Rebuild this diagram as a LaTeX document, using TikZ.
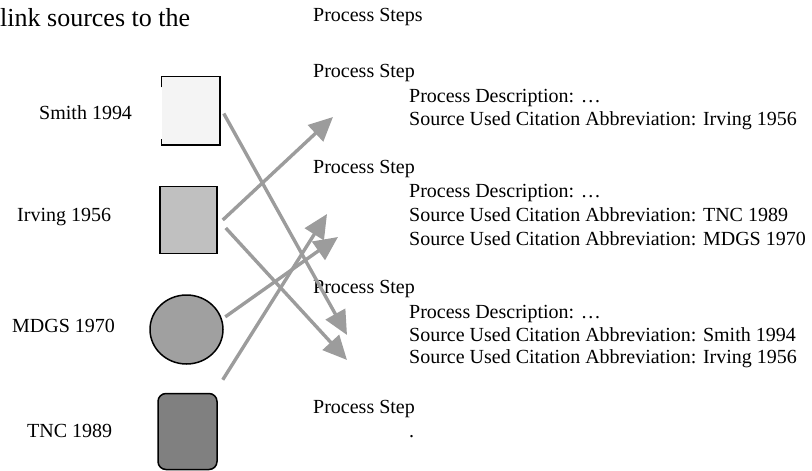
\documentclass[tikz,border=0pt]{standalone}
\usepackage{fontspec}
\setmainfont{Liberation Serif}
\usepackage{xcolor}
\usetikzlibrary{arrows.meta,positioning,shapes.geometric}
\definecolor{srcpale}{HTML}{F4F4F4}
\definecolor{srclight}{HTML}{C0C0C0}
\definecolor{srcmid}{HTML}{A0A0A0}
\definecolor{srcdark}{HTML}{808080}
\definecolor{linkgray}{HTML}{9C9C9C}

\begin{document}
\begin{tikzpicture}[
  x=1pt,y=-1pt,
  src/.style={inner sep=0pt,line width=1.5pt,minimum width=57pt,minimum height=67pt},
  txt/.style={anchor=base west,inner sep=0pt,font=\fontsize{20}{24}\selectfont},
  link/.style={-{Triangle[length=24pt,width=22pt]},line width=3.4pt,color=linkgray}
]
  \useasboundingbox (0,0) rectangle (812,471);
  \node[anchor=base west,inner sep=0pt,font=\fontsize{26}{30}\selectfont] (intro) at (0,27) {link sources to the};

  % sources
  \node[txt] (lsmith) at (39,119) {Smith 1994};
  \node[txt] (lirving) at (17,221) {Irving 1956};
  \node[txt] (lmdgs) at (12,332) {MDGS 1970};
  \node[txt] (ltnc) at (27,437) {TNC 1989};
  \node[src,fill=srcpale] (smith) at (190.5,110.5) {};
  \draw[line width=1.5pt] ([yshift=-11pt]smith.north west) -- (smith.north west) -- (smith.north east)
    -- (smith.south east) -- (smith.south west) -- ([yshift=6pt]smith.south west);
  \node[src,draw,fill=srclight] (irving) at (188.5,220) {};
  \node[src,draw,ellipse,fill=srcmid,minimum width=73pt,minimum height=69pt] (mdgs) at (186.5,329.5) {};
  \node[src,draw,rounded corners=8pt,fill=srcdark,minimum width=59pt,minimum height=76pt] (tnc) at (187.5,431.5) {};

  % process steps
  \node[txt] (steps) at (313,21) {Process Steps};
  \node[txt] (step1) at (313,77) {Process Step};
  \node[txt] (d1) at ([shift={(96pt,-25pt)}]step1.base west) {Process Description: …};
  \node[txt] (s1irving) at ([yshift=-23pt]d1.base west) {Source Used Citation Abbreviation: Irving 1956};
  \node[txt] (step2) at (313,173) {Process Step};
  \node[txt] (d2) at ([shift={(96pt,-24pt)}]step2.base west) {Process Description: …};
  \node[txt] (s2tnc) at ([yshift=-24pt]d2.base west) {Source Used Citation Abbreviation: TNC 1989};
  \node[txt] (s2mdgs) at ([yshift=-24pt]s2tnc.base west) {Source Used Citation Abbreviation: MDGS 1970};
  \node[txt] (step3) at (313,293) {Process Step};
  \node[txt] (d3) at ([shift={(96pt,-25pt)}]step3.base west) {Process Description: …};
  \node[txt] (s3smith) at ([yshift=-23pt]d3.base west) {Source Used Citation Abbreviation: Smith 1994};
  \node[txt] (s3irving) at ([yshift=-22pt]s3smith.base west) {Source Used Citation Abbreviation: Irving 1956};
  \node[txt] (step4) at (313,413) {Process Step};
  \node[txt] (d4) at ([shift={(96pt,-24pt)}]step4.base west) {.};

  % links
  \coordinate (tip1) at (333,117);
  \coordinate (tip2a) at (327,214);
  \coordinate (tip2b) at (338,237);
  \coordinate (tip3a) at (347,335);
  \coordinate (tip3b) at (347,360);
  \draw[link] ([shift={(4pt,-3pt)}]smith.east) -- (tip3a);
  \draw[link] ([xshift=5pt]irving.east) -- (tip1);
  \draw[link] ([shift={(8pt,-8pt)}]irving.east) -- (tip3b);
  \draw[link] ([xshift=4pt]mdgs.20) -- (tip2b);
  \draw[link] ([shift={(5pt,13pt)}]tnc.north east) -- (tip2a);
\end{tikzpicture}
\end{document}
